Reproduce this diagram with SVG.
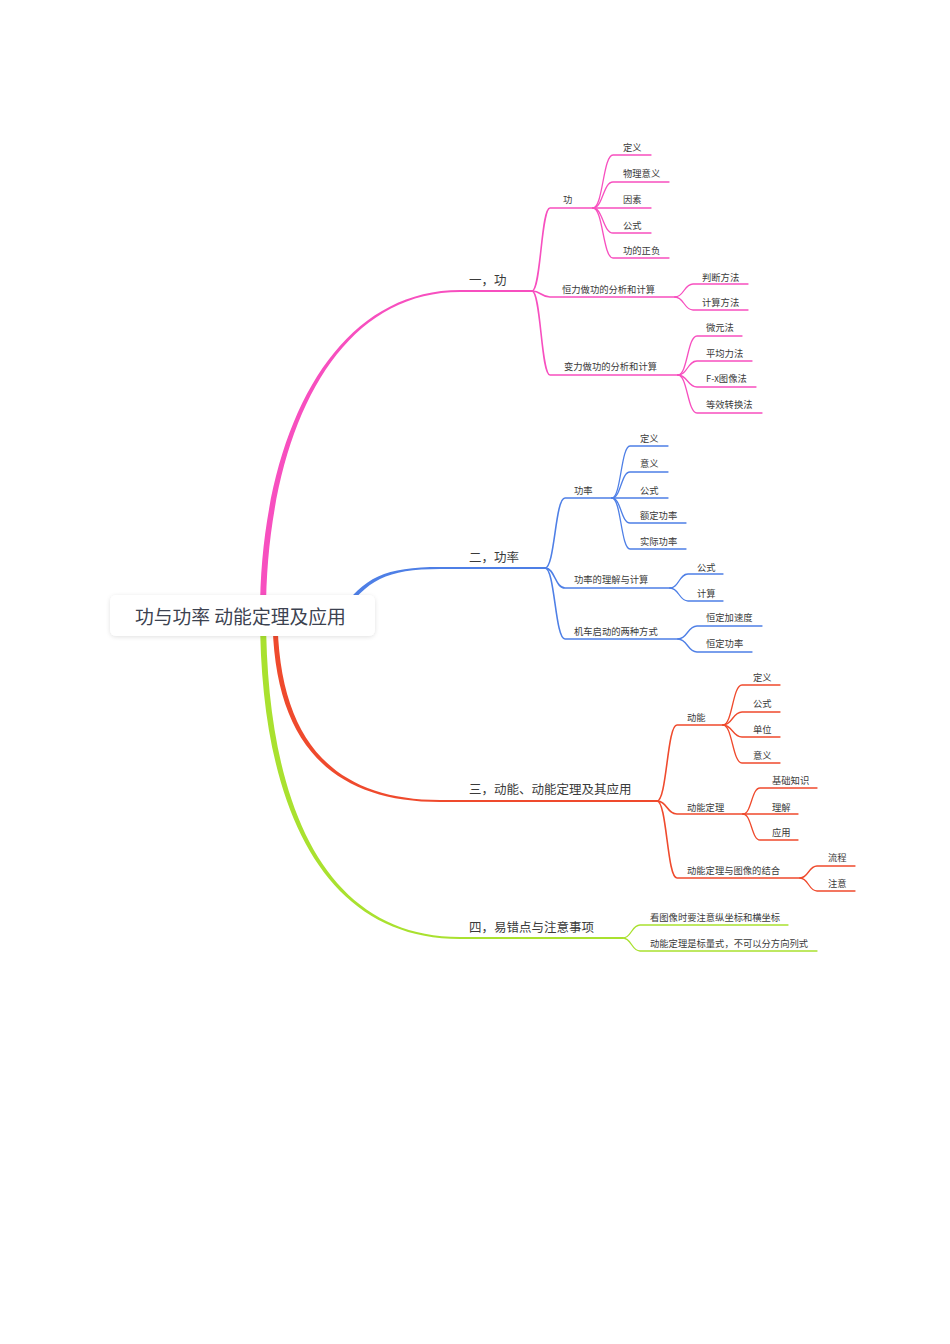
<svg xmlns="http://www.w3.org/2000/svg" width="950" height="1344" viewBox="0 0 950 1344">
<style>
.t{font-family:"Noto Sans CJK SC","Noto Sans",sans-serif;fill:#3a3a3a;dominant-baseline:central}
.l{font-size:9.3px}
.m{font-size:12.5px}
.r{font-size:18.8px;fill:#3c4250}
.c{fill:none;stroke-linecap:round}
.s{stroke-width:1.6}
.f{stroke-width:1.3}
.pk{stroke:#f74fbf}
.bl{stroke:#4e7fe6}
.rd{stroke:#ef4a2d}
.gr{stroke:#a9e12f}
</style>
<defs>
<filter id="sh" x="-10%" y="-30%" width="120%" height="160%">
<feDropShadow dx="0" dy="1" stdDeviation="2" flood-color="#000" flood-opacity="0.12"/>
</filter>
</defs>
<rect width="950" height="1344" fill="#ffffff"/>
<g id="connectors">
<path d="M260,614 C260,439 330,290 460,290 L532,290 L532,292 L460,292 C331,292 266,441 266,614 Z" fill="#f74fbf"/>
<path d="M338.5,613 C364,577 385,567 440,567 L545,567 L545,569 L440,569 C386,569 367,580 341.5,616 Z" fill="#4e7fe6"/>
<path d="M272.5,614 C272.5,742 330,802 440,802 L657,802 L657,800 L440,800 C331,800 277.5,738 277.5,614 Z" fill="#ef4a2d"/>
<path d="M260,614 C260,802 320,939 460,939 L623,939 L623,937 L460,937 C321,937 266,798 266,614 Z" fill="#a9e12f"/>
<path class="c s pk" d="M532,291 C541,291 541,208 550,208 H593"/>
<path class="c s pk" d="M532,291 C541,291 541,297 550,297 H675"/>
<path class="c s pk" d="M532,291 C541,291 541,375 550,375 H678"/>
<path class="c f pk" d="M593,208 C603,208 603,155 613,155 H651"/>
<path class="c f pk" d="M593,208 C603,208 603,182 613,182 H669"/>
<path class="c f pk" d="M593,208 H651"/>
<path class="c f pk" d="M593,208 C603,208 603,233 613,233 H651"/>
<path class="c f pk" d="M593,208 C603,208 603,258 613,258 H669"/>
<path class="c f pk" d="M675,297 C684,297 684,284 693,284 H748"/>
<path class="c f pk" d="M675,297 C684,297 684,310 693,310 H748"/>
<path class="c f pk" d="M678,375 C687.5,375 687.5,336 697,336 H742"/>
<path class="c f pk" d="M678,375 C687.5,375 687.5,361 697,361 H752"/>
<path class="c f pk" d="M678,375 C687.5,375 687.5,387 697,387 H756"/>
<path class="c f pk" d="M678,375 C687.5,375 687.5,413 697,413 H762"/>
<path class="c s bl" d="M545,568 C555,568 555,498 565,498 H612"/>
<path class="c s bl" d="M545,568 C555,568 555,588 565,588 H670"/>
<path class="c s bl" d="M545,568 C555,568 555,639 565,639 H678"/>
<path class="c f bl" d="M612,498 C621,498 621,446 630,446 H668"/>
<path class="c f bl" d="M612,498 C621,498 621,472 630,472 H668"/>
<path class="c f bl" d="M612,498 H668"/>
<path class="c f bl" d="M612,498 C621,498 621,523 630,523 H686"/>
<path class="c f bl" d="M612,498 C621,498 621,549 630,549 H686"/>
<path class="c f bl" d="M670,588 C679,588 679,574 688,574 H723"/>
<path class="c f bl" d="M670,588 C679,588 679,601 688,601 H723"/>
<path class="c f bl" d="M678,639 C687.5,639 687.5,626 697,626 H762"/>
<path class="c f bl" d="M678,639 C687.5,639 687.5,652 697,652 H752"/>
<path class="c s rd" d="M657,801 C667,801 667,725 677,725 H723"/>
<path class="c s rd" d="M657,801 C667,801 667,814 677,814 H743"/>
<path class="c s rd" d="M657,801 C667,801 667,878 677,878 H800"/>
<path class="c f rd" d="M723,725 C732.5,725 732.5,685 742,685 H780"/>
<path class="c f rd" d="M723,725 C732.5,725 732.5,712 742,712 H780"/>
<path class="c f rd" d="M723,725 C732.5,725 732.5,737 742,737 H780"/>
<path class="c f rd" d="M723,725 C732.5,725 732.5,763 742,763 H780"/>
<path class="c f rd" d="M743,814 C751.5,814 751.5,788 760,788 H817"/>
<path class="c f rd" d="M743,814 H798"/>
<path class="c f rd" d="M743,814 C751.5,814 751.5,840 760,840 H798"/>
<path class="c f rd" d="M800,878 C808.5,878 808.5,866 817,866 H855"/>
<path class="c f rd" d="M800,878 C808.5,878 808.5,891 817,891 H855"/>
<path class="c f gr" d="M623,938 C631.5,938 631.5,925 640,925 H788"/>
<path class="c f gr" d="M623,938 C631.5,938 631.5,951 640,951 H817"/>
</g>
<g id="root">
<rect x="110" y="595" width="265" height="41" rx="6" fill="#ffffff" filter="url(#sh)"/>
<text class="t r" x="135" y="615">功与功率 动能定理及应用</text>
</g>
<g id="n1"><text class="t m" x="469" y="279">一，功</text></g>
<g id="n1a"><text class="t l" x="563" y="199">功</text></g>
<g id="n1a1"><text class="t l" x="623" y="147">定义</text></g>
<g id="n1a2"><text class="t l" x="623" y="173">物理意义</text></g>
<g id="n1a3"><text class="t l" x="623" y="199">因素</text></g>
<g id="n1a4"><text class="t l" x="623" y="225">公式</text></g>
<g id="n1a5"><text class="t l" x="623" y="250">功的正负</text></g>
<g id="n1b"><text class="t l" x="562" y="289">恒力做功的分析和计算</text></g>
<g id="n1b1"><text class="t l" x="702" y="277">判断方法</text></g>
<g id="n1b2"><text class="t l" x="702" y="302">计算方法</text></g>
<g id="n1c"><text class="t l" x="564" y="366">变力做功的分析和计算</text></g>
<g id="n1c1"><text class="t l" x="706" y="327">微元法</text></g>
<g id="n1c2"><text class="t l" x="706" y="353">平均力法</text></g>
<g id="n1c3"><text class="t l" x="706" y="378">F-x图像法</text></g>
<g id="n1c4"><text class="t l" x="706" y="404">等效转换法</text></g>
<g id="n2"><text class="t m" x="469" y="556">二，功率</text></g>
<g id="n2a"><text class="t l" x="574" y="490">功率</text></g>
<g id="n2a1"><text class="t l" x="640" y="438">定义</text></g>
<g id="n2a2"><text class="t l" x="640" y="463">意义</text></g>
<g id="n2a3"><text class="t l" x="640" y="490">公式</text></g>
<g id="n2a4"><text class="t l" x="640" y="515">额定功率</text></g>
<g id="n2a5"><text class="t l" x="640" y="541">实际功率</text></g>
<g id="n2b"><text class="t l" x="574" y="579">功率的理解与计算</text></g>
<g id="n2b1"><text class="t l" x="697" y="567">公式</text></g>
<g id="n2b2"><text class="t l" x="697" y="593">计算</text></g>
<g id="n2c"><text class="t l" x="574" y="631">机车启动的两种方式</text></g>
<g id="n2c1"><text class="t l" x="706" y="617">恒定加速度</text></g>
<g id="n2c2"><text class="t l" x="706" y="643">恒定功率</text></g>
<g id="n3"><text class="t m" x="469" y="788">三，动能、动能定理及其应用</text></g>
<g id="n3a"><text class="t l" x="687" y="717">动能</text></g>
<g id="n3a1"><text class="t l" x="753" y="677">定义</text></g>
<g id="n3a2"><text class="t l" x="753" y="703">公式</text></g>
<g id="n3a3"><text class="t l" x="753" y="729">单位</text></g>
<g id="n3a4"><text class="t l" x="753" y="755">意义</text></g>
<g id="n3b"><text class="t l" x="687" y="807">动能定理</text></g>
<g id="n3b1"><text class="t l" x="772" y="780">基础知识</text></g>
<g id="n3b2"><text class="t l" x="772" y="807">理解</text></g>
<g id="n3b3"><text class="t l" x="772" y="832">应用</text></g>
<g id="n3c"><text class="t l" x="687" y="870">动能定理与图像的结合</text></g>
<g id="n3c1"><text class="t l" x="828" y="857">流程</text></g>
<g id="n3c2"><text class="t l" x="828" y="883">注意</text></g>
<g id="n4"><text class="t m" x="469" y="926">四，易错点与注意事项</text></g>
<g id="n4a"><text class="t l" x="650" y="917">看图像时要注意纵坐标和横坐标</text></g>
<g id="n4b"><text class="t l" x="650" y="943">动能定理是标量式，不可以分方向列式</text></g>
</svg>
